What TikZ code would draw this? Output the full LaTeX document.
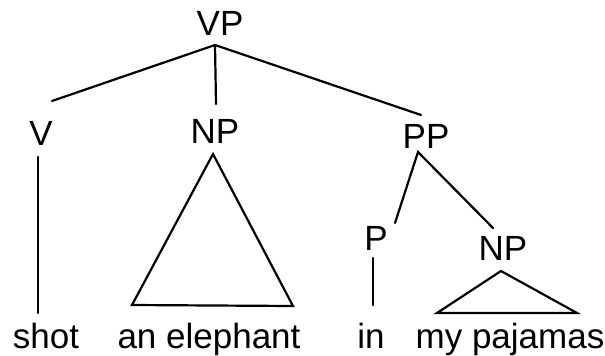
\documentclass[tikz,border=0pt]{standalone}
\usepackage{fontspec}
\setmainfont{Liberation Sans}
\begin{document}
\begin{tikzpicture}[x=1pt,y=-1pt,
  lbl/.style={inner sep=0pt,anchor=base,font=\fontsize{35}{42}\selectfont},
  edge/.style={line width=2.2pt,line cap=round,line join=miter}]
\useasboundingbox (0,0) rectangle (605,356);
% labels
\node[lbl] (vp) at (220,35) {VP};
\node[lbl] (v) at (41,145) {V};
\node[lbl] (np1) at (215,143) {NP};
\node[lbl] (pp) at (426,148) {PP};
\node[lbl] (p) at (376,250) {P};
\node[lbl] (np2) at (503,260) {NP};
\node[lbl] (shot) at (46,348) {shot};
\node[lbl] (eleph) at (209,348) {an elephant};
\node[lbl] (in) at (371,348) {in};
\node[lbl] (paj) at (510,348) {my pajamas};
% attachment points
\coordinate (vpb) at (215,45);
\coordinate (vt) at (52,101);
\coordinate (npt) at (216,104);
\coordinate (ppt) at (421,115);
\coordinate (vb) at (38,157);
\coordinate (shott) at (38,313);
\coordinate (npb) at (213,154);
\coordinate (elL) at (132,305);
\coordinate (elR) at (293,306);
\coordinate (ppb) at (418,152);
\coordinate (pt) at (395,223);
\coordinate (np2t) at (493,228);
\coordinate (pb) at (373,258);
\coordinate (int) at (373,305);
\coordinate (np2b) at (501,271);
\coordinate (pjL) at (437,313);
\coordinate (pjR) at (577,313);
% edges
\draw[edge] (vt) -- (vpb) -- (ppt);
\draw[edge] (vpb) -- (npt);
\draw[edge] (vb) -- (shott);
\draw[edge] (npb) -- (elL) -- (elR) -- cycle;
\draw[edge] (pt) -- (ppb) -- (np2t);
\draw[edge] (pb) -- (int);
\draw[edge] (np2b) -- (pjL) -- (pjR) -- cycle;
\end{tikzpicture}
\end{document}
